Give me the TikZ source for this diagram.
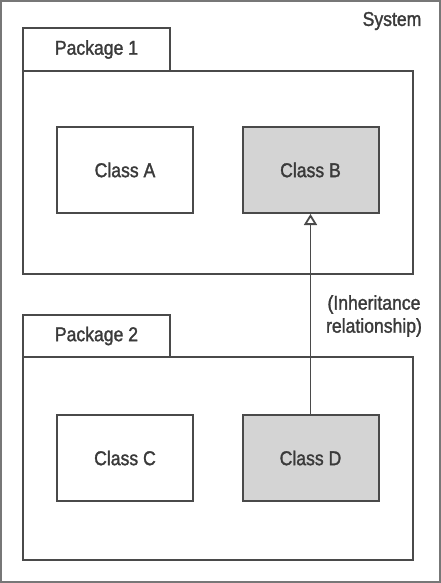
\documentclass[tikz,border=0pt]{standalone}
\usepackage{fontspec}
\setmainfont{Liberation Sans}[FakeStretch=0.88,FakeBold=1.5]
\usetikzlibrary{arrows.meta}
\definecolor{linegray}{HTML}{4A4A4A}
\definecolor{textgray}{HTML}{3A3A3A}
\definecolor{classfill}{HTML}{D4D4D4}
\begin{document}
\begin{tikzpicture}[
  box/.style={draw=linegray,line width=2pt,inner sep=0pt},
  classbox/.style={box,fill=white,minimum width=136pt,minimum height=86pt},
  grayclass/.style={classbox,fill=classfill},
  lbl/.style={text=textgray,font=\fontsize{20}{23}\selectfont},
  inherit/.style={draw=linegray,line width=1.8pt,-{Triangle[open,width=13pt,length=11pt]}}]
\begin{scope}[x=1pt,y=-1pt]
\useasboundingbox (0,0) rectangle (441,583);
% outer frame
\draw[draw=linegray!75,line width=1.6pt] (1,1) rectangle (440,582);
\node[lbl] (system) at (392,21) {System};
% Package 1
\draw[box] (23,28) rectangle (170,71);
\node[lbl] (pk1) at (96.5,49.5) {Package 1};
\draw[box] (23,71) rectangle (413,274);
\node[classbox,lbl] (A) at (125,170) {Class A};
\node[grayclass,lbl] (B) at (310.5,170) {Class B};
% Package 2
\draw[box] (23,315) rectangle (170,357);
\node[lbl] (pk2) at (96.5,336) {Package 2};
\draw[box] (23,357) rectangle (413,560);
\node[classbox,lbl] (C) at (125,458) {Class C};
\node[grayclass,lbl] (D) at (310.5,458) {Class D};
\node[lbl,align=center] (rel) at (374,316) {(Inheritance\\relationship)};
\end{scope}
% inheritance
\draw[inherit] (D.north) -- (B.south);
\end{tikzpicture}
\end{document}
